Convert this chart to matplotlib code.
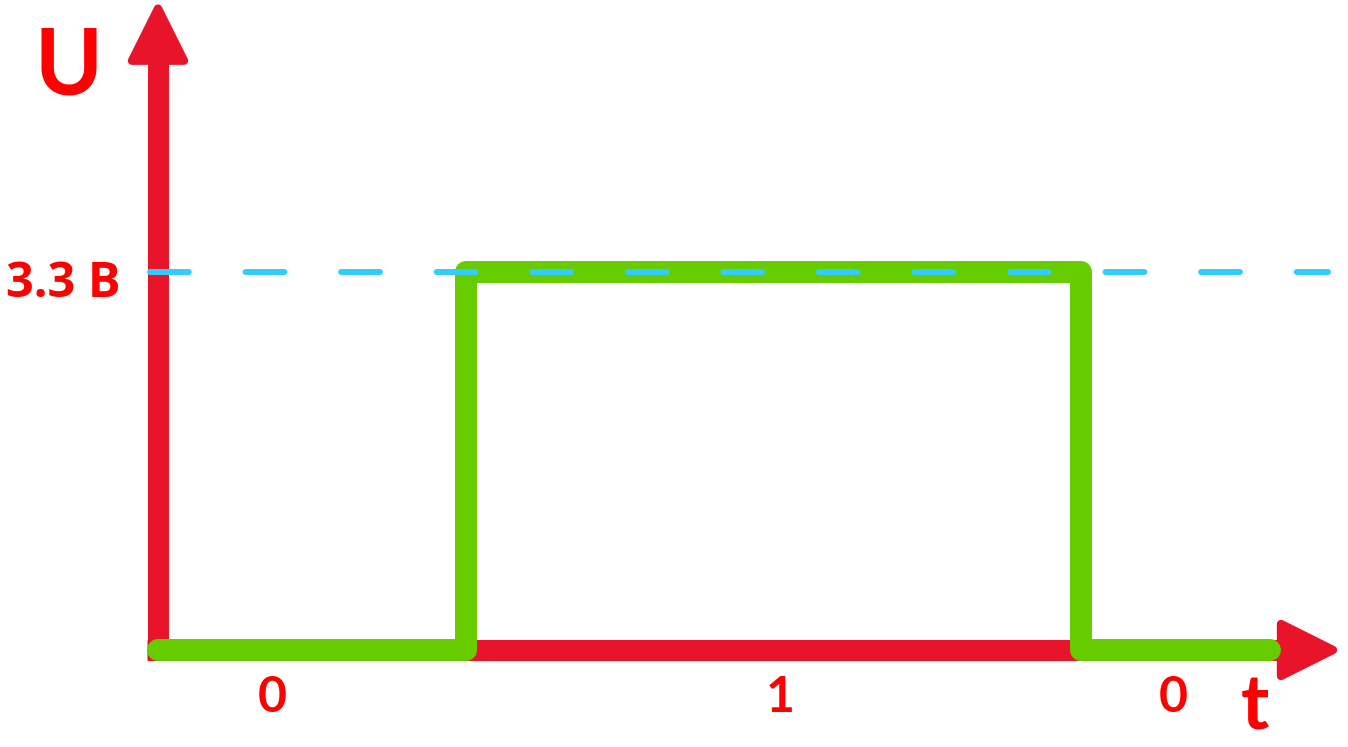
import matplotlib
matplotlib.use("Agg")
import matplotlib.pyplot as plt
from matplotlib.patches import Polygon

# Signal data (time in arbitrary units, voltage in volts)
t_points = [0.0, 3.08, 3.08, 9.23, 9.23, 11.12]
u_points = [0.0, 0.0, 3.3, 3.3, 0.0, 0.0]
v_high = 3.3
v_label = "3.3 В"

# Bit labels under the time axis
bit_labels = ["0", "1", "0"]
bit_pos = [1.14, 6.22, 10.15]

# Colours
axis_red = "#E8142A"
text_red = "#FF0000"
green = "#66CC00"
cyan = "#33CCFF"

fonts = ["Lato", "Open Sans", "DejaVu Sans"]

fig = plt.figure(figsize=(13.48, 7.47), dpi=100)
ax = fig.add_axes([0, 0, 1, 1])
ax.set_xlim(-1.58, 11.90)
ax.set_ylim(-0.847, 5.675)
ax.axis("off")

# Axes (red) with arrow heads
ax.plot([-0.11, 11.25], [0, 0], color=axis_red, lw=15.1, solid_capstyle="butt", zorder=1)
ax.plot([0, 0], [-0.09, 5.2], color=axis_red, lw=15.1, solid_capstyle="butt", zorder=1)
ax.add_patch(Polygon([[11.23, 0.227], [11.75, 0], [11.23, -0.227]], closed=True,
                     fc=axis_red, ec=axis_red, lw=6, joinstyle="round", zorder=1))
ax.add_patch(Polygon([[-0.26, 5.145], [0, 5.60], [0.26, 5.145]], closed=True,
                     fc=axis_red, ec=axis_red, lw=6, joinstyle="round", zorder=1))

# Green signal
ax.plot(t_points, u_points, color=green, lw=15.8, solid_capstyle="round",
        solid_joinstyle="round", zorder=2)

# Dashed reference level
ax.plot([-0.08, 11.70], [v_high, v_high], color=cyan, lw=4.3, dashes=(6.5, 9.5),
        dash_capstyle="round", zorder=3)

# Labels
ax.text(-0.90, 4.85, "U", color=text_red, fontsize=66, fontweight="bold",
        family=fonts, ha="center", va="baseline")
ax.text(-0.95, 3.08, v_label, color=text_red, fontsize=35, fontweight="bold",
        family=["Open Sans", "DejaVu Sans"], ha="center", va="baseline")
for lab, pos in zip(bit_labels, bit_pos):
    ax.text(pos, -0.54, lab, color=text_red, fontsize=36, fontweight="bold",
            family=fonts, ha="center", va="baseline")
ax.text(10.97, -0.69, "t", color=text_red, fontsize=55, fontweight="bold",
        family=fonts, ha="center", va="baseline")

fig.savefig("out.png", dpi=100)
